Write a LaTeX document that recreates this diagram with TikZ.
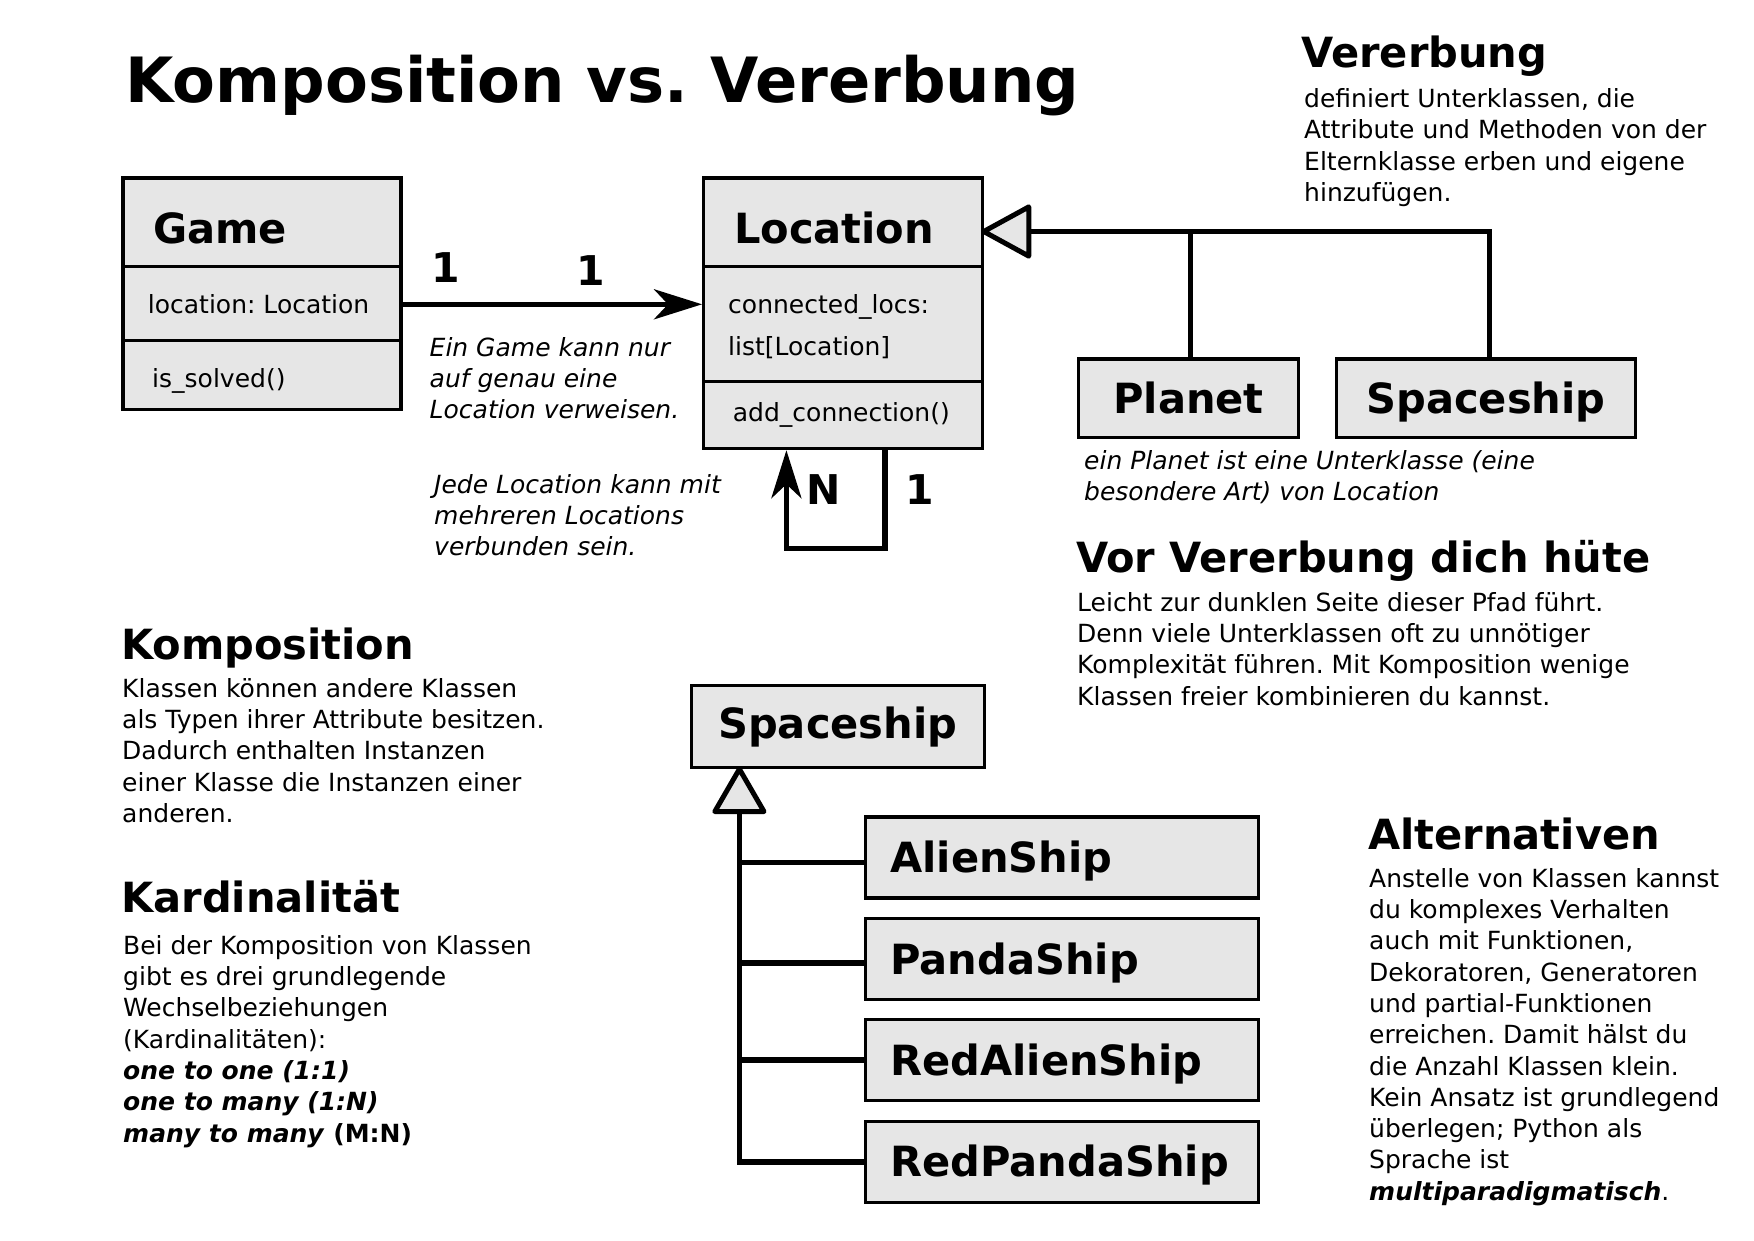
\documentclass[tikz,border=0pt]{standalone}
\usepackage{fontspec}
\setmainfont{DejaVu Sans}
\usetikzlibrary{arrows.meta,calc}
\definecolor{boxfill}{RGB}{230,230,230}
\frenchspacing
\begin{document}
\frenchspacing
\begin{tikzpicture}[x=1pt,y=-1pt,
  cbox/.style={draw=black, fill=boxfill, line width=3.2pt, inner sep=0pt},
  conn/.style={line width=5.6pt},
  tri/.style={draw=black, line width=5pt, line join=round, fill=boxfill},
  head/.style={inner sep=0pt, anchor=base west, font=\fontsize{41.6}{48}\selectfont\bfseries},
  body/.style={inner sep=0pt, anchor=north west, align=left, font=\fontsize{25}{31.3}\selectfont},
  ibody/.style={inner sep=0pt, anchor=north west, align=left, font=\fontsize{25}{31.3}\selectfont\itshape},
  attr/.style={inner sep=0pt, anchor=base west, font=\fontsize{25}{30}\selectfont},
  card/.style={inner sep=0pt, anchor=base west, font=\fontsize{41}{48}\selectfont\bfseries},
  arr/.style={-{Stealth[length=48pt,width=30pt,inset=14pt]}},
  cls/.style={cbox, text height=30.5pt, text depth=0pt, font=\fontsize{41.6}{48}\selectfont\bfseries},
  sub/.style={cbox, minimum width=392.6pt, minimum height=81pt, text width=343.4pt, align=left,
    inner xsep=24.6pt, inner ysep=0pt, text height=30.5pt, text depth=0pt,
    font=\fontsize{41.6}{48}\selectfont\bfseries},
]
\useasboundingbox (0,0) rectangle (1754,1240);
\fill[white] (0,0) rectangle (1754,1240);

% Title and headings
\node[inner sep=0pt, anchor=base west, font=\fontsize{62.4}{70}\selectfont\bfseries] (title) at (125.3,102) {Komposition vs. Vererbung};
\node[head] (hver) at (1301,67) {Vererbung};
\node[head] (hvor) at (1076,572.7) {Vor Vererbung dich hüte};
\node[head] (hkomp) at (120.8,659) {Komposition};
\node[head] (hkard) at (121,912.8) {Kardinalität};
\node[head] (halt) at (1368,849) {Alternativen};

% Body paragraphs
\node[body] (bver) at (1304,85.3) {\strut definiert Unterklassen, die\\Attribute und Methoden von der\\Elternklasse erben und eigene\\hinzufügen.};
\node[body] (bvor) at (1077,589.1) {\strut Leicht zur dunklen Seite dieser Pfad führt.\\Denn viele Unterklassen oft zu unnötiger\\Komplexität führen. Mit Komposition wenige\\Klassen freier kombinieren du kannst.};
\node[body] (bkomp) at (122,675.1) {\strut Klassen können andere Klassen\\als Typen ihrer Attribute besitzen.\\Dadurch enthalten Instanzen\\einer Klasse die Instanzen einer\\anderen.};
\node[body] (bkard) at (123,932.1) {\strut Bei der Komposition von Klassen\\gibt es drei grundlegende\\Wechselbeziehungen\\(Kardinalitäten):\\\textbf{\textit{one to one (1:1)}}\\\textbf{\textit{one to many (1:N)}}\\\textbf{\textit{many to many} (M:N)}};
\node[body] (balt) at (1369,865.1) {\strut Anstelle von Klassen kannst\\du komplexes Verhalten\\auch mit Funktionen,\\Dekoratoren, Generatoren\\und partial-Funktionen\\erreichen. Damit hälst du\\die Anzahl Klassen klein.\\Kein Ansatz ist grundlegend\\überlegen; Python als\\Sprache ist\\\textbf{\textit{multiparadigmatisch}}.};
\node[ibody] (ngame) at (429.5,334.1) {\strut Ein Game kann nur\\auf genau eine\\Location verweisen.};
\node[ibody] (nloc) at (434,471.1) {\strut Jede Location kann mit\\mehreren Locations\\verbunden sein.};
\node[ibody] (nplanet) at (1084,447.1) {\strut ein Planet ist eine Unterklasse (eine\\besondere Art) von Location};

% Game class
\node[cbox, minimum width=278pt, minimum height=231.4pt] (game) at (262,293.7) {};
\draw[line width=3.2pt] (game.west |- 0,266.2) -- (game.east |- 0,266.2);
\draw[line width=3.2pt] (game.west |- 0,340.1) -- (game.east |- 0,340.1);
\node[head] (gameh) at (153,243.4) {Game};
\node[attr] (gamea) at (147.7,313) {location: Location};
\node[attr] (gamem) at (152,387) {is\_solved()};

% Location class
\node[cbox, minimum width=278.5pt, minimum height=270.6pt] (loc) at (842.9,313.3) {};
\draw[line width=3.2pt] (loc.west |- 0,266.2) -- (loc.east |- 0,266.2);
\draw[line width=3.2pt] (loc.west |- 0,381.4) -- (loc.east |- 0,381.4);
\node[head] (loch) at (733.8,243.4) {Location};
\node[attr] (loca1) at (728,313) {connected\_locs:};
\node[attr] (loca2) at (728,355) {list[Location]};
\node[attr] (locm) at (732.7,421) {add\_connection()};

% Game -> Location
\coordinate (ay) at (0,304.3);
\draw[conn,arr] (game.east |- ay) -- (loc.west |- ay);
\node[card] (c1) at (431,282) {1};
\node[card] (c2) at (576,285) {1};

% Self loop
\coordinate (loopR) at ($(loc.south)+(41.9,0)$);
\coordinate (loopL) at ($(loc.south)+(-56.5,0)$);
\draw[conn,arr] (loopR) -- ++(0,98.4) -| (loopL);
\node[card] (cn) at (806,504.5) {N};
\node[card] (c3) at (905,504.5) {1};

% Planet / Spaceship inheritance
\node[cls, minimum width=220.4pt, minimum height=78.4pt] (planet) at (1188.5,398.2) {Planet};
\node[cls, minimum width=298.7pt, minimum height=78.4pt] (ship1) at (1486,398.2) {Spaceship};
\coordinate (tip1) at (loc.east |- 0,231.5);
\coordinate (tb1) at ($(tip1)+(45,0)$);
\coordinate (sh1top) at ($(ship1.north)+(3.5,0)$);
\coordinate (pltop) at ($(planet.north)+(2,0)$);
\draw[conn] (tb1) -| (sh1top);
\draw[conn] (pltop) -- (pltop |- tb1);
\draw[tri] (tip1) -- ($(tb1)+(0,-24.6)$) -- ($(tb1)+(0,24.6)$) -- cycle;

% Spaceship hierarchy
\node[cls, minimum width=293.1pt, minimum height=81.7pt, text height=24pt] (ship2) at (837.8,726.6) {Spaceship};
\node[sub] (alien) at (1062.1,857.4) {AlienShip};
\node[sub] (panda) at (1062.1,958.8) {PandaShip};
\node[sub] (redalien) at (1062.1,1060.2) {RedAlienShip};
\node[sub] (rpanda) at (1062.1,1161.6) {RedPandaShip};
\coordinate (tip2) at (ship2.south -| 739.4,0);
\coordinate (tb2) at ($(tip2)+(0,42.5)$);
\draw[conn] (tb2) |- ($(rpanda.west)+(0,0.6)$);
\draw[conn] ($(alien.west)+(0,5)$) -- ($(alien.west -| tb2)+(0,5)$);
\draw[conn] ($(panda.west)+(0,4.3)$) -- ($(panda.west -| tb2)+(0,4.3)$);
\draw[conn] (redalien.west) -- (redalien.west -| tb2);
\draw[tri] (tip2) -- ($(tb2)+(-24.6,0)$) -- ($(tb2)+(24.6,0)$) -- cycle;
\end{tikzpicture}
\end{document}
